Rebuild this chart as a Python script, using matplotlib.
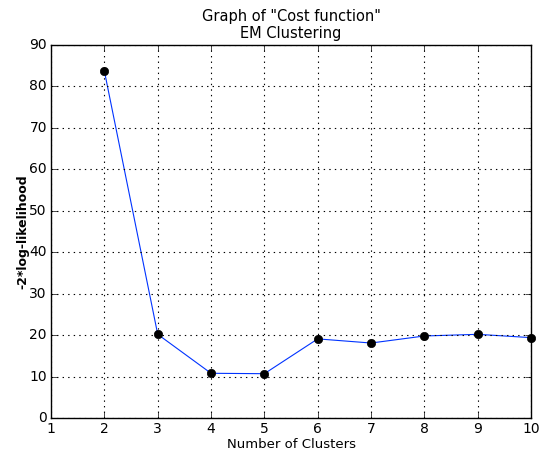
import matplotlib
matplotlib.use('Agg')
import matplotlib.pyplot as plt

clusters = [2, 3, 4, 5, 6, 7, 8, 9, 10]
cost = [83.7, 20.2, 10.8, 10.7, 19.1, 18.1, 19.8, 20.2, 19.4]

plt.style.use('classic')
fig = plt.figure(figsize=(5.43, 4.5), dpi=100)
ax = fig.add_axes([0.094, 0.071, 0.884, 0.829])

ax.plot(clusters, cost, color='#0033ff', lw=0.8)
ax.plot(clusters, cost, 'ko', ms=6, clip_on=False)

ax.set_xlim(1, 10)
ax.set_ylim(0, 90)
ax.grid(True, color='k', linestyle=':', linewidth=0.8)
ax.tick_params(axis='both', which='both', direction='in', labelsize=10, pad=3)
ax.set_xlabel('Number of Clusters', size=9.5, labelpad=1)
ax.set_ylabel('-2*log-likelihood', size=9, weight='bold', labelpad=0)
ax.set_title('Graph of "Cost function"\nEM Clustering', size=10.5, y=1.0)

fig.savefig('out.png', dpi=100)
